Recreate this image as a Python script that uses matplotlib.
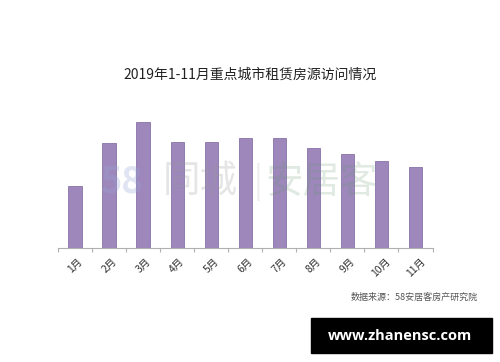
import matplotlib
matplotlib.use("Agg")
import matplotlib.pyplot as plt
from matplotlib.patches import Rectangle

plt.rcParams['font.family'] = ['Noto Sans CJK SC', 'DejaVu Sans']

# values (relative bar heights)
months = ["1月", "2月", "3月", "4月", "5月", "6月", "7月", "8月", "9月", "10月", "11月"]
visits = [62, 105, 126, 106, 106, 110, 110, 100, 94, 87, 81]

title = "2019年1-11月重点城市租赁房源访问情况"
source = "数据来源：58安居客房产研究院"


def main():
    fig = plt.figure(figsize=(5, 3.62), dpi=100)
    ax = fig.add_axes([0.116, 0.315, 0.749, 0.42])

    x = range(len(months))
    ax.bar(x, visits, width=0.39, color="#9d87bb", edgecolor="#8a74a8",
           linewidth=0.6, zorder=3)

    ax.set_xlim(-0.5, len(months) - 0.5)
    ax.set_ylim(0, 152)
    for side in ["top", "right", "left"]:
        ax.spines[side].set_visible(False)
    ax.spines["bottom"].set_color("#b0b0b0")
    ax.spines["bottom"].set_linewidth(0.8)
    ax.set_yticks([])

    # tick marks between categories, labels under bars
    ax.set_xticks([i - 0.5 for i in range(len(months) + 1)])
    ax.set_xticklabels([])
    ax.tick_params(axis="x", length=3, color="#b0b0b0", width=0.8)
    ax.set_xticks(list(x), minor=True)
    ax.set_xticklabels(months, minor=True, rotation=45, fontsize=7.5,
                       color="#333333")
    ax.tick_params(axis="x", which="minor", length=0, pad=6)

    # faint watermark behind the bars
    fig.text(0.20, 0.497, "58", fontsize=26, color="#9aa8d8", alpha=0.3,
             ha="left", va="center", weight="bold", zorder=0)
    fig.text(0.325, 0.497, "同城", fontsize=27, color="#9a9a9a", alpha=0.25,
             ha="left", va="center", zorder=0)
    fig.text(0.516, 0.497, "|", fontsize=24, color="#bbbbbb", alpha=0.25,
             ha="center", va="center", zorder=0)
    fig.text(0.53, 0.497, "安居客", fontsize=27, color="#6a9a70", alpha=0.2,
             ha="left", va="center", zorder=0)

    fig.text(0.5, 0.793, title, fontsize=10, color="#222222",
             ha="center", va="center")
    fig.text(0.956, 0.18, source, fontsize=6.5, color="#555555",
             ha="right", va="center")

    # black site banner bottom right
    fig.patches.append(Rectangle((0.622, 0.025), 0.362, 0.097,
                                 transform=fig.transFigure, color="black",
                                 zorder=5))
    fig.text(0.80, 0.073, "www.zhanensc.com", fontsize=10.5, color="white",
             weight="bold", ha="center", va="center", zorder=6,
             family="Open Sans")

    fig.savefig("out.png", dpi=100, facecolor="white")


if __name__ == "__main__":
    main()
